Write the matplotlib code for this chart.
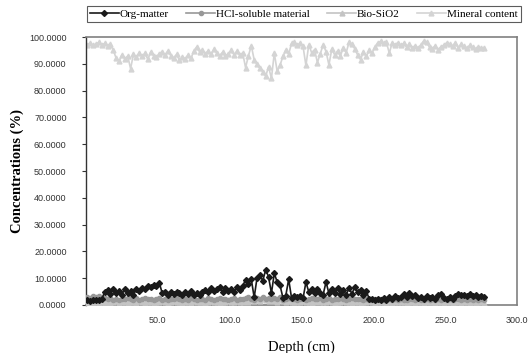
import numpy as np
import matplotlib
matplotlib.use("Agg")
import matplotlib.pyplot as plt

# Depth samples (cm)
depth = list(range(1, 279, 2))

org_matter = [
    1.8, 1.6, 1.9, 1.7, 2.0, 2.2, 4.8, 5.6, 4.2, 5.9,
    4.5, 5.3, 3.9, 6.1, 4.6, 5.2, 3.8, 6.0, 5.1, 6.4,
    5.8, 7.2, 6.6, 7.5, 7.0, 8.3, 4.4, 4.9, 3.8, 4.7,
    4.1, 5.0, 4.3, 3.6, 4.8, 4.2, 5.2, 3.9, 4.6, 3.7,
    4.9, 5.6, 4.8, 6.2, 5.1, 5.9, 6.8, 5.0, 6.4, 5.3,
    6.1, 4.9, 6.6, 5.7, 7.1, 9.4, 7.8, 9.6, 2.8, 10.2,
    11.1, 9.0, 13.2, 10.5, 4.4, 11.8, 8.6, 7.3, 2.7, 3.5,
    9.6, 2.6, 3.4, 2.9, 3.2, 2.5, 8.5, 4.9, 6.0, 4.4,
    5.8, 4.5, 3.9, 8.6, 4.3, 5.9, 4.6, 6.2, 4.1, 5.5,
    3.8, 6.4, 4.2, 6.7, 4.8, 5.7, 3.9, 5.1, 2.4, 2.1,
    1.9, 2.3, 2.0, 2.6, 1.8, 2.9, 2.4, 3.3, 2.6, 3.1,
    4.0, 3.0, 4.3, 3.2, 3.6, 2.5, 2.9, 2.3, 3.4, 2.7,
    3.0, 2.4, 3.8, 4.1, 2.6, 2.2, 2.8, 2.4, 3.5, 4.2,
    3.6, 3.9, 3.2, 4.0, 3.4, 3.7, 3.1, 3.3, 2.9,
]

hcl_soluble = [
    3.1, 2.7, 3.3, 2.9, 3.4, 3.0, 2.6, 2.2, 2.5, 2.0,
    2.3, 1.9, 2.4, 2.1, 2.6, 2.2, 1.8, 2.5, 2.0, 2.3,
    2.7, 2.1, 2.4, 1.9, 2.2, 2.6, 2.0, 2.3, 1.8, 2.4,
    2.1, 2.5, 2.2, 1.9, 2.3, 2.0, 2.6, 2.2, 1.8, 2.1,
    2.4, 2.0, 2.5, 2.2, 1.9, 2.3, 2.7, 2.1, 2.4, 2.0,
    2.2, 2.6, 1.9, 2.3, 2.1, 2.5, 2.8, 2.2, 2.0, 2.6,
    2.4, 2.9, 2.3, 2.7, 2.1, 2.5, 2.2, 2.8, 2.0, 2.4,
    2.6, 2.1, 2.3, 1.9, 2.2, 2.5, 2.0, 2.4, 2.7, 2.1,
    2.3, 2.6, 2.0, 2.2, 2.5, 1.9, 2.4, 2.1, 2.6, 2.2,
    2.0, 2.3, 2.5, 2.1, 2.4, 2.2, 1.9, 2.3, 2.0, 1.8,
    2.2, 1.9, 2.1, 1.7, 2.0, 2.3, 1.8, 2.1, 1.9, 2.2,
    2.0, 1.8, 2.3, 2.1, 1.9, 2.2, 1.7, 2.0, 2.4, 1.9,
    2.1, 1.8, 2.2, 2.0, 2.3, 1.9, 2.1, 1.8, 2.2, 2.4,
    2.0, 2.1, 1.9, 2.3, 2.0, 2.2, 1.8, 2.1, 2.0,
]

bio_sio2 = [
    0.9, 1.1, 0.8, 1.2, 0.7, 1.0, 0.9, 1.3, 0.8, 1.1,
    1.4, 0.9, 1.2, 1.0, 0.8, 1.3, 1.1, 0.9, 1.5, 1.0,
    0.8, 1.2, 1.1, 0.9, 1.3, 1.0, 1.6, 1.2, 0.9, 1.1,
    1.4, 1.0, 1.2, 0.8, 1.3, 1.1, 0.9, 1.5, 1.2, 1.0,
    1.3, 0.9, 1.1, 1.4, 1.0, 1.2, 0.8, 1.3, 1.1, 1.7,
    1.2, 1.0, 1.4, 1.1, 1.3, 1.6, 1.2, 1.8, 1.4, 1.9,
    1.5, 2.1, 1.7, 1.4, 1.9, 1.6, 1.3, 1.8, 1.5, 1.2,
    1.4, 1.1, 1.3, 1.0, 1.2, 1.5, 1.1, 1.3, 0.9, 1.2,
    1.4, 1.0, 1.3, 1.1, 1.5, 1.2, 0.9, 1.3, 1.1, 1.4,
    1.0, 1.2, 0.8, 1.3, 1.1, 0.9, 1.2, 1.0, 1.4, 1.1,
    0.9, 1.2, 1.0, 1.3, 0.8, 1.1, 0.9, 1.2, 1.0, 1.3,
    1.1, 0.9, 1.2, 1.0, 0.8, 1.1, 1.3, 0.9, 1.2, 1.0,
    1.1, 0.8, 1.2, 1.0, 0.9, 1.3, 1.1, 0.8, 1.0, 1.2,
    0.9, 1.1, 1.0, 0.8, 1.2, 0.9, 1.1, 1.0, 0.9,
]

mineral_content = [
    97.2, 97.8, 96.9, 97.5, 98.0, 97.1, 97.6, 96.8, 97.3, 95.0,
    92.1, 91.0, 93.4, 91.8, 92.9, 88.2, 93.6, 92.4, 94.1, 92.8,
    93.9, 91.7, 94.4, 93.1, 92.5, 93.8, 94.6, 93.2, 94.9, 93.0,
    92.2, 93.5, 91.4, 92.6, 91.9, 93.3, 92.0, 94.8, 96.3, 94.5,
    95.2, 93.7, 94.9, 93.6, 95.4, 94.0, 93.1, 94.3, 92.9, 93.8,
    95.0, 93.4, 94.7, 93.2, 94.1, 88.6, 93.0, 96.8, 91.5, 89.8,
    88.3, 87.1, 85.4, 88.9, 84.6, 94.0, 87.2, 89.5, 92.8, 95.1,
    93.7, 97.6, 98.2, 96.9, 97.8, 96.5, 89.4, 97.2, 94.1, 95.3,
    90.5, 93.8, 97.1, 94.6, 89.6, 95.5, 93.4, 94.8, 93.0, 95.9,
    94.2, 98.0, 97.4, 95.6, 93.3, 91.6, 94.5, 92.8, 95.0, 94.1,
    96.3, 97.9, 98.4, 97.6, 98.1, 94.0, 97.8, 97.2, 97.9, 97.0,
    97.6, 96.4, 97.3, 96.0, 96.8, 95.9, 97.1, 98.6, 98.0, 96.2,
    95.7, 96.8, 95.3, 96.4, 97.0, 97.9, 97.3, 96.6, 97.7, 96.1,
    97.4, 96.5, 95.8, 96.9, 96.2, 95.6, 96.4, 95.9, 96.1,
]

series_names = ["Org-matter", "HCl-soluble material", "Bio-SiO2", "Mineral content"]
y_ticks = [0, 10, 20, 30, 40, 50, 60, 70, 80, 90, 100]
x_ticks = [50, 100, 150, 200, 250, 300]

fig = plt.figure(figsize=(5.31, 3.53), dpi=100)
ax = fig.add_axes([0.162, 0.136, 0.812, 0.759])

ax.plot(depth, mineral_content, color="#d4d4d4", lw=1.2, marker="^", ms=3.5,
        mec="#d4d4d4", mfc="#d4d4d4", label=series_names[3], zorder=2)
ax.plot(depth, bio_sio2, color="#c4c4c4", lw=1.2, marker="^", ms=3.5,
        mec="#c4c4c4", mfc="#c4c4c4", label=series_names[2], zorder=3)
ax.plot(depth, hcl_soluble, color="#989898", lw=1.2, marker="o", ms=3,
        mec="#989898", mfc="#989898", label=series_names[1], zorder=4)
ax.plot(depth, org_matter, color="#1a1a1a", lw=1.2, marker="D", ms=3,
        mec="#1a1a1a", mfc="#1a1a1a", label=series_names[0], zorder=5)

ax.set_xlim(0, 300)
ax.set_ylim(0, 100)
ax.set_yticks(y_ticks)
ax.set_yticklabels([f"{v:.4f}" for v in y_ticks], fontsize=6.5,
                   family="Liberation Sans", color="#333333")
ax.set_xticks(x_ticks)
ax.set_xticklabels([f"{v:.1f}" for v in x_ticks], fontsize=6.5,
                   family="Liberation Sans", color="#333333")
ax.tick_params(axis="y", length=3, width=0.8, color="#333333", pad=11)
ax.tick_params(axis="x", length=0, pad=8)

for side in ["top", "right", "bottom"]:
    ax.spines[side].set_color("#808080")
    ax.spines[side].set_linewidth(1.2)
ax.spines["left"].set_color("#333333")
ax.spines["left"].set_linewidth(1.0)

ax.set_ylabel("Concentrations (%)", family="Liberation Serif", fontsize=10.5,
              fontweight="bold", labelpad=4)
ax.set_xlabel("Depth (cm)", family="Liberation Serif", fontsize=10.5, labelpad=11)

handles, labels = ax.get_legend_handles_labels()
order = [3, 2, 1, 0]
leg = fig.legend([handles[i] for i in order], [labels[i] for i in order],
                 loc="upper left", bbox_to_anchor=(0.163, 0.931, 0.818, 0.052),
                 mode="expand", ncol=4, frameon=True, fancybox=False,
                 prop={"family": "Liberation Serif", "size": 8},
                 handlelength=2.6, handletextpad=0.1, borderpad=0.3,
                 columnspacing=0.8, borderaxespad=0)
leg.get_frame().set_edgecolor("#333333")
leg.get_frame().set_linewidth(0.8)

fig.savefig("out.png", dpi=100)
